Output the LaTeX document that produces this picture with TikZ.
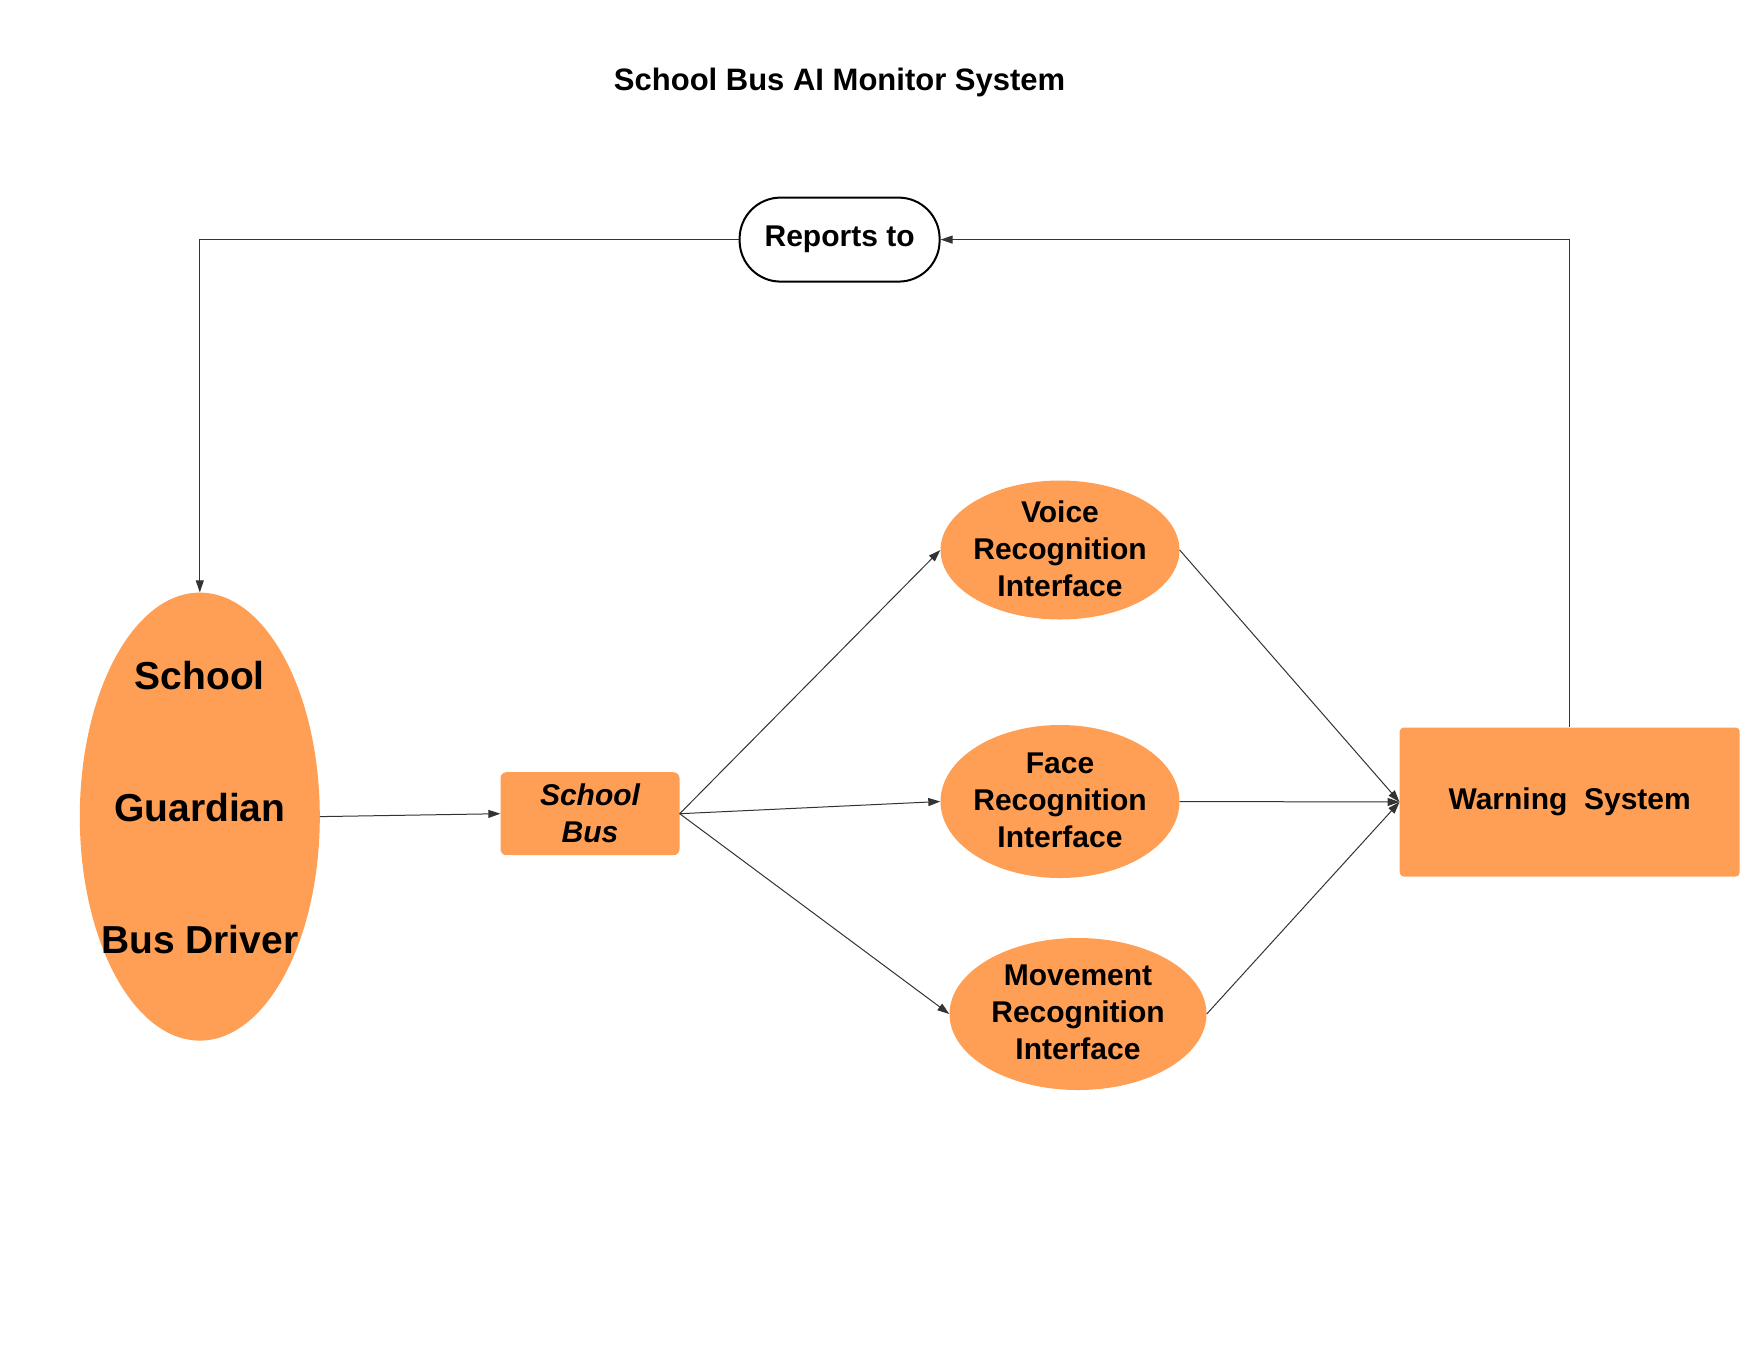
\documentclass[tikz,border=0pt]{standalone}
\usepackage{fontspec}
\setmainfont{Liberation Sans}
\usetikzlibrary{shapes.geometric,arrows.meta}
\definecolor{orangefill}{HTML}{FF9F55}
\definecolor{edgegray}{HTML}{333333}
\begin{document}
\begin{tikzpicture}[x=1pt,y=-1pt,
  midfont/.style={font=\fontsize{30}{37}\selectfont\bfseries},
  report/.style={draw=black,line width=2pt,fill=white,rounded corners=41pt,
    minimum width=200pt,minimum height=84pt,inner sep=0pt,midfont},
  bigell/.style={ellipse,fill=orangefill,minimum width=240pt,minimum height=448pt,
    inner sep=0pt},
  bigtext/.style={align=center,inner sep=0pt,font=\fontsize{39}{44}\selectfont\bfseries},
  ell/.style={ellipse,fill=orangefill,inner xsep=-40pt,inner ysep=-30pt,
    align=center,midfont,text depth=3pt},
  busbox/.style={fill=orangefill,rounded corners=6pt,minimum width=179pt,
    minimum height=83pt,inner sep=0pt,align=center,
    font=\fontsize{30}{37}\selectfont\bfseries\itshape},
  warnbox/.style={fill=orangefill,rounded corners=4pt,minimum width=340pt,
    minimum height=149pt,inner sep=0pt,midfont},
  arr/.style={draw=edgegray,line width=1pt,
    -{Triangle[length=12pt,width=8pt]}}
]
\useasboundingbox (0,0) rectangle (1760,1360);
\node[font=\fontsize{31}{37}\selectfont\bfseries] (title) at (839.6,82) {School Bus AI Monitor System};
\node[report] (rep) at (839.6,239.6) {Reports to};
\node[bigell] (users) at (199.8,816.6) {};
\node[bigtext] (userstext) at (199.8,807.6) {School\\[88pt]Guardian\\[88pt]Bus Driver};
\node[busbox] (bus) at (590,813.7) {School\\Bus};
\node[ell,minimum width=239pt,minimum height=139pt] (voice) at (1060,550) {Voice\\Recognition\\Interface};
\node[ell,minimum width=239pt,minimum height=153pt] (face) at (1060,801.5) {Face\\Recognition\\Interface};
\node[ell,minimum width=257pt,minimum height=152pt] (move) at (1078,1014) {Movement\\Recognition\\Interface};
\node[warnbox] (warn) at (1569.7,802) {Warning\ \ System};
\draw[arr] (users.east) -- (bus.west);
\draw[arr] (bus.east) -- (voice.west);
\draw[arr] (bus.east) -- (face.west);
\draw[arr] (bus.east) -- (move.west);
\draw[arr] (voice.east) -- (warn.west);
\draw[arr] (face.east) -- (warn.west);
\draw[arr] (move.east) -- (warn.west);
\draw[arr] (warn.north) |- (rep.east);
\draw[arr] (rep.west) -| (users.north);
\end{tikzpicture}
\end{document}
